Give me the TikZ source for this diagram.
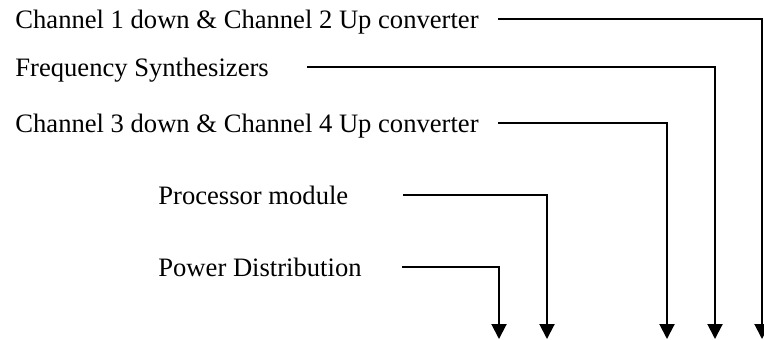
\documentclass[tikz,border=0pt]{standalone}
\usepackage{fontspec}
\setmainfont{Liberation Serif}
\usetikzlibrary{arrows.meta}
\begin{document}
\begin{tikzpicture}[x=0.5pt,y=-0.5pt,
  lbl/.style={anchor=base west,inner sep=0pt,font=\fontsize{13.3}{16}\selectfont},
  conn/.style={line width=1pt,-{Triangle[width=7.5pt,length=7.5pt]}}]
\useasboundingbox (0,0) rectangle (764,339);
\node[lbl] (l1) at (15,28) {Channel 1 down \& Channel 2 Up converter};
\node[lbl] (l2) at (15,76) {Frequency Synthesizers};
\node[lbl] (l3) at (15,132) {Channel 3 down \& Channel 4 Up converter};
\node[lbl] (l4) at (158,204) {Processor module};
\node[lbl] (l5) at (158,276) {Power Distribution};
\coordinate (a1) at (498,19);
\coordinate (a2) at (307,67);
\coordinate (a3) at (498,123);
\coordinate (a4) at (403,195);
\coordinate (a5) at (402,267);
\coordinate (t1) at (762,339);
\coordinate (t2) at (715,339);
\coordinate (t3) at (667,339);
\coordinate (t4) at (547,339);
\coordinate (t5) at (499,339);
\draw[conn] (a1) -| (t1);
\draw[conn] (a2) -| (t2);
\draw[conn] (a3) -| (t3);
\draw[conn] (a4) -| (t4);
\draw[conn] (a5) -| (t5);
\end{tikzpicture}
\end{document}
